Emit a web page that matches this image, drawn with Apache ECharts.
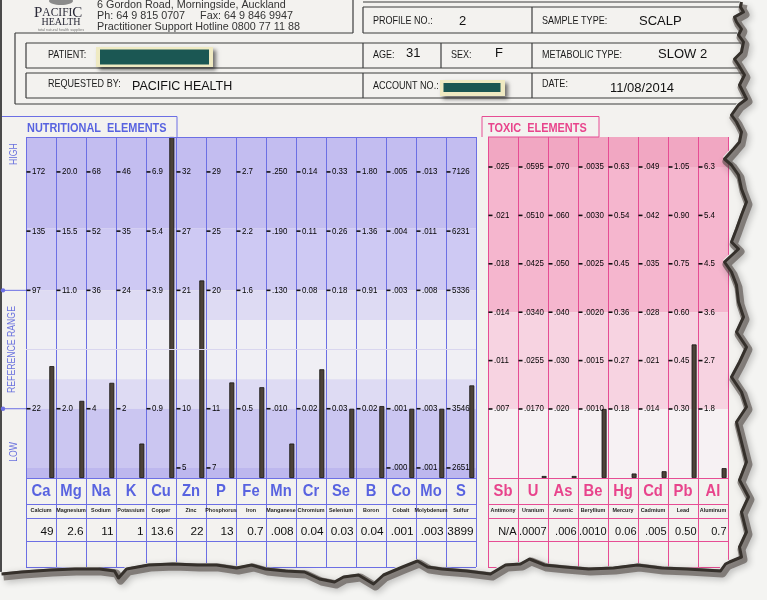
<!DOCTYPE html>
<html><head><meta charset="utf-8">
<script src="https://cdn.jsdelivr.net/npm/echarts@6/dist/echarts.min.js"></script>
<style>html,body{margin:0;padding:0;background:#f3f2ef}#c{width:767px;height:600px}</style>
</head><body><div id="c"></div>
<script>
// ---------------- DATA ----------------
const nutriSymbols = ['Ca','Mg','Na','K','Cu','Zn','P','Fe','Mn','Cr','Se','B','Co','Mo','S'];
const nutriNames = ['Calcium','Magnesium','Sodium','Potassium','Copper','Zinc','Phosphorus','Iron','Manganese','Chromium','Selenium','Boron','Cobalt','Molybdenum','Sulfur'];
const nutriResults = [49, 2.6, 11, 1, 13.6, 22, 13, 0.7, 0.008, 0.04, 0.03, 0.04, 0.001, 0.003, 3899];
const nutriResultLabels = ['49','2.6','11','1','13.6','22','13','0.7','.008','0.04','0.03','0.04','.001','.003','3899'];
// tick labels per row (bottom "low" row, reference low, reference high, high 1, high 2)
const nutriTickLow   = [null,null,null,null,null,'5','7',null,null,null,null,null,'.000','.001','2651'];
const nutriTickRefLo = ['22','2.0','4','2','0.9','10','11','0.5','.010','0.02','0.03','0.02','.001','.003','3546'];
const nutriTickRefHi = ['97','11.0','36','24','3.9','21','20','1.6','.130','0.08','0.18','0.91','.003','.008','5336'];
const nutriTickHigh1 = ['135','15.5','52','35','5.4','27','25','2.2','.190','0.11','0.26','1.36','.004','.011','6231'];
const nutriTickHigh2 = ['172','20.0','68','46','6.9','32','29','2.7','.250','0.14','0.33','1.80','.005','.013','7126'];
// unprinted low-line scale values (estimated from the bars in the picture)
const nutriLowHidden = [null,null,null,0.3,null,null,null,null,0.0066,null,null,null,null,null,null];

const toxSymbols = ['Sb','U','As','Be','Hg','Cd','Pb','Al'];
const toxNames = ['Antimony','Uranium','Arsenic','Beryllium','Mercury','Cadmium','Lead','Aluminum'];
const toxResults = [null, 0.0007, 0.006, 0.0010, 0.06, 0.005, 0.50, 0.7];
const toxResultLabels = ['N/A','.0007','.006','.0010','0.06','.005','0.50','0.7'];
const toxTick0 = ['.007','.0170','.020','.0010','0.18','.014','0.30','1.8'];
const toxTick1 = ['.011','.0255','.030','.0015','0.27','.021','0.45','2.7'];
const toxTick2 = ['.014','.0340','.040','.0020','0.36','.028','0.60','3.6'];
const toxTick3 = ['.018','.0425','.050','.0025','0.45','.035','0.75','4.5'];
const toxTick4 = ['.021','.0510','.060','.0030','0.54','.042','0.90','5.4'];
const toxTick5 = ['.025','.0595','.070','.0035','0.63','.049','1.05','6.3'];

// ---------------- STYLE ----------------
const SANS = "'Liberation Sans',Arial,sans-serif";
const NX = 0.82; // horizontal squeeze to imitate a narrow face
const BLUE = '#6c6fe4', BLUE_TXT = '#5863e0';
const PINK = '#e64d94', PINK_TXT = '#e8448c';
const NUT_OFF = 0.17, NUT_TOP = 5.76;
const TOX_OFF = 1.426, TOX_TOP = 7.046;
const nutRows = [nutriTickLow, nutriTickRefLo, nutriTickRefHi, nutriTickHigh1, nutriTickHigh2];
const nutRowLevels = [0, 1, 3, 4, 5];
const toxRows = [toxTick0, toxTick1, toxTick2, toxTick3, toxTick4, toxTick5];
const toxRowLevels = [0, 1, 2, 3, 4, 5];

function num(s) { return (s === null || s === undefined) ? null : parseFloat(s); }
function levelOf(v, scale, levels) {
  const pts = [];
  scale.forEach((s, k) => { if (s !== null && !isNaN(s)) pts.push([s, levels[k]]); });
  let a = pts[0], b = pts[1];
  for (let k = 0; k < pts.length - 1; k++) { a = pts[k]; b = pts[k + 1]; if (v <= b[0]) break; }
  return a[1] + (v - a[0]) * (b[1] - a[1]) / (b[0] - a[0]);
}
const clamp = (v, lo, hi) => Math.max(lo, Math.min(hi, v));

const nutBars = [];
nutriResults.forEach((v, i) => {
  if (v === null) return;
  const low = num(nutriTickLow[i]) !== null ? num(nutriTickLow[i]) : nutriLowHidden[i];
  const scale = [low].concat([nutriTickRefLo, nutriTickRefHi, nutriTickHigh1, nutriTickHigh2].map(r => num(r[i])));
  nutBars.push([i + 0.86, clamp(levelOf(v, scale, nutRowLevels) + NUT_OFF, 0, NUT_TOP)]);
});
const toxBars = [];
toxResults.forEach((v, i) => {
  if (v === null) return;
  const scale = toxRows.map(r => num(r[i]));
  toxBars.push([i + 0.87, clamp(levelOf(v, scale, toxRowLevels) + TOX_OFF, 0, TOX_TOP)]);
});

const nutTicks = [], toxTicks = [];
nutRows.forEach((row, r) => row.forEach((t, i) => { if (t !== null) nutTicks.push({ text: t, value: [i, nutRowLevels[r] + NUT_OFF] }); }));
toxRows.forEach((row, r) => row.forEach((t, i) => { if (t !== null) toxTicks.push({ text: t, value: [i, toxRowLevels[r] + TOX_OFF] }); }));

// custom-series text layer (library coordinates via api.coord)
function textLayer(g, items, st) {
  return {
    type: 'custom', xAxisIndex: g, yAxisIndex: g, silent: true, z: 6,
    data: items.map(it => it.value),
    renderItem: function (params, api) {
      const p = api.coord([api.value(0), api.value(1)]);
      const it = items[params.dataIndex];
      return { type: 'text', x: p[0] + (st.dx || 0), y: p[1], scaleX: st.sx || 1,
        style: { text: it.text, fill: st.fill, fontSize: st.size, fontFamily: SANS, fontWeight: st.weight || 'normal',
          align: st.align || 'left', verticalAlign: 'middle' } };
    }
  };
}
function tickLayer(g, items) {
  return {
    type: 'custom', xAxisIndex: g, yAxisIndex: g, silent: true, z: 6,
    data: items.map(it => it.value),
    renderItem: function (params, api) {
      const p = api.coord([api.value(0), api.value(1)]);
      const it = items[params.dataIndex];
      return { type: 'group', children: [
        { type: 'rect', shape: { x: p[0] + 0.5, y: p[1] - 0.8, width: 4, height: 1.6 }, style: { fill: '#111' } },
        { type: 'text', x: p[0] + 6, y: p[1], scaleX: 0.88,
          style: { text: it.text, fill: '#050505', fontSize: 9, fontFamily: SANS, align: 'left', verticalAlign: 'middle' } }
      ] };
    }
  };
}
function tableLayers(g, syms, names, vals, color, line, valX, valSize) {
  return [
    Object.assign(textLayer(g, syms.map((s, i) => ({ text: s, value: [i + 0.5, 13.5] })), { fill: color, size: 17, weight: 'bold', align: 'center', sx: 0.87 }), {
      markLine: { silent: true, symbol: ['none', 'none'], label: { show: false }, lineStyle: { color: line, width: 1, type: 'solid' },
        data: [0, 26, 40, 63, 89].map(y => ({ yAxis: y })) } }),
    textLayer(g, names.map((s, i) => ({ text: s, value: [i + 0.5, 33] })), { fill: '#1d1d1d', size: 5.4, weight: 'bold', align: 'center' }),
    textLayer(g, vals.map((s, i) => ({ text: s, value: [i + valX, 53.5] })), { fill: '#111', size: valSize, align: 'right' })
  ];
}

function band(a, b, c) { return [{ yAxis: a, itemStyle: { color: c } }, { yAxis: b }]; }
const N = NUT_OFF, T = TOX_OFF;

const option = {
  animation: false,
  backgroundColor: '#f3f2ef',
  grid: [
    { left: 26, top: 137, width: 450, height: 341 },
    { left: 488, top: 137, width: 240, height: 341 },
    { left: 26, top: 478, width: 450, height: 89 },
    { left: 488, top: 478, width: 240, height: 89 }
  ],
  xAxis: [0, 1, 2, 3].map(g => ({
    gridIndex: g, type: 'value', min: 0, max: g % 2 === 0 ? nutriSymbols.length : toxSymbols.length, interval: 1, z: 3,
    axisLine: { show: false }, axisTick: { show: false }, axisLabel: { show: false },
    splitLine: { show: true, lineStyle: { color: g % 2 === 0 ? BLUE : PINK, width: 1 } }
  })),
  yAxis: [
    { gridIndex: 0, type: 'value', min: 0, max: NUT_TOP, show: false },
    { gridIndex: 1, type: 'value', min: 0, max: TOX_TOP, show: false },
    { gridIndex: 2, type: 'value', min: 0, max: 89, inverse: true, show: false },
    { gridIndex: 3, type: 'value', min: 0, max: 89, inverse: true, show: false }
  ],
  series: [
    { type: 'bar', xAxisIndex: 0, yAxisIndex: 0, barWidth: 5, silent: true, clip: true, data: nutBars,
      itemStyle: { color: '#4c4239', borderColor: '#161412', borderWidth: 0.8 },
      markArea: { silent: true, data: [
        band(4.05 + N, NUT_TOP, '#c3bdf0'), band(3 + N, 4.05 + N, '#ceC9f3'), band(2.5 + N, 3 + N, '#dedbf3'),
        band(1.5 + N, 2.5 + N, '#f0eff4'), band(1 + N, 1.5 + N, '#dedbf3'), band(0 + N, 1 + N, '#cbc6f1'), band(0, 0 + N, '#bdb7ee')
      ] },
      markLine: { silent: true, symbol: ['none', 'none'], label: { show: false }, lineStyle: { type: 'solid', width: 1, color: BLUE },
        data: [{ yAxis: 0 }, { yAxis: NUT_TOP }, { yAxis: 2 + N, lineStyle: { color: '#d9d6ef', width: 1 } }] } },
    tickLayer(0, nutTicks),
    { type: 'bar', xAxisIndex: 1, yAxisIndex: 1, barWidth: 5, barMinHeight: 2, silent: true, clip: true, data: toxBars,
      itemStyle: { color: '#4c4239', borderColor: '#161412', borderWidth: 0.8 },
      markArea: { silent: true, data: [
        band(5 + T, TOX_TOP, '#f1a7c2'), band(2 + T, 5 + T, '#f5b6ce'), band(0 + T, 2 + T, '#f7d3e1'), band(0, 0 + T, '#f6f1f3')
      ] },
      markLine: { silent: true, symbol: ['none', 'none'], label: { show: false }, lineStyle: { type: 'solid', width: 1, color: PINK },
        data: [{ yAxis: 0 }, { yAxis: TOX_TOP }] } },
    tickLayer(1, toxTicks)
  ].concat(tableLayers(2, nutriSymbols, nutriNames, nutriResultLabels, BLUE_TXT, BLUE, 0.92, 11.8))
   .concat(tableLayers(3, toxSymbols, toxNames, toxResultLabels, PINK_TXT, PINK, 0.95, 11))
};

const chart = echarts.init(document.getElementById('c'), null, { renderer: 'canvas', width: 767, height: 600 });
chart.setOption(option);

// ---------------- DECORATION (header, labels, torn paper) ----------------
const G = [];
function txt(t, x, y, o) {
  o = o || {};
  G.push({ type: 'text', z: 20, x: x, y: y, rotation: o.rot || 0, scaleX: o.sx === undefined ? NX : o.sx,
    style: { text: t, x: 0, y: 0, fill: o.fill || '#1a1a1a', fontSize: o.size || 11, fontFamily: o.font || SANS,
      fontWeight: o.weight || 'normal', textAlign: o.align || 'left', align: o.align || 'left',
      textVerticalAlign: 'middle', verticalAlign: 'middle', rich: o.rich } });
}
function ln(x1, y1, x2, y2, c, w) { G.push({ type: 'line', z: 20, shape: { x1, y1, x2, y2 }, style: { stroke: c || '#3c3c3c', lineWidth: w || 1.2 } }); }
function rc(x, y, w, h, style) { G.push({ type: 'rect', z: 20, shape: { x, y, width: w, height: h }, style: style }); }

// header boxes
const DK = '#3d3d3d';
ln(363, 2, 767, 2, DK); ln(353, 0, 353, 33, DK); ln(15, 33, 353, 33, DK);
ln(15, 33, 15, 104, DK); ln(15, 104, 767, 104, DK);
ln(363, 7, 767, 7, DK); ln(363, 33, 767, 33, DK); ln(363, 7, 363, 33, DK); ln(532, 7, 532, 33, DK);
[[43, 68], [73, 98]].forEach(([a, b]) => { ln(26, a, 767, a, DK); ln(26, b, 767, b, DK); ln(26, a, 26, b, DK); ln(363, a, 363, b, DK); ln(532, a, 532, b, DK); });
ln(441, 43, 441, 68, DK);

// logo + address
G.push({ type: 'ellipse', z: 20, shape: { cx: 61, cy: 1, rx: 12, ry: 4 }, style: { fill: '#8a8a8a' } });
const SERIF = "'Liberation Serif',serif";
txt('{a|P}{b|ACIFI}{a|C}', 34, 13, { font: SERIF, size: 12, fill: '#2a2a38', sx: 1,
  rich: { a: { fontSize: 15, fontFamily: SERIF, fill: '#2a2a38' }, b: { fontSize: 11.5, fontFamily: SERIF, fill: '#2a2a38' } } });
txt('HEALTH', 61, 22.5, { font: SERIF, size: 10, align: 'center', fill: '#2a2a38', sx: 1 });
txt('total natural health supplies', 61, 29.5, { size: 3.8, align: 'center', fill: '#777', sx: 1 });
const ADR = { size: 11, fill: '#333', sx: 0.98 };
txt('6 Gordon Road, Morningside, Auckland', 97, 4.5, ADR);
txt('Ph: 64 9 815 0707     Fax: 64 9 846 9947', 97, 16, ADR);
txt('Practitioner Support Hotline 0800 77 11 88', 97, 27, ADR);

// header fields
const VAL = { size: 13, fill: '#111', sx: 1 };
txt('PROFILE NO.:', 373, 21); txt('2', 459, 21, VAL); txt('SAMPLE TYPE:', 542, 21); txt('SCALP', 639, 21, VAL);
txt('PATIENT:', 48, 55); txt('AGE:', 373, 55); txt('31', 406, 53, VAL); txt('SEX:', 451, 55); txt('F', 495, 53, VAL);
txt('METABOLIC TYPE:', 542, 55); txt('SLOW 2', 658, 54, VAL);
txt('REQUESTED BY:', 48, 84); txt('PACIFIC HEALTH', 132, 87, { size: 12.5, fill: '#111', sx: 1 });
txt('ACCOUNT NO.:', 373, 86); txt('DATE:', 542, 84); txt('11/08/2014', 610, 88, VAL);

// redaction boxes
const SH = { fill: '#efeac2', shadowBlur: 4, shadowOffsetX: 3, shadowOffsetY: 3, shadowColor: 'rgba(0,0,0,0.55)' };
rc(96, 47, 117, 20, SH); rc(100, 49.5, 109, 15, { fill: '#1b5753' });
rc(440, 80, 65, 16, SH); rc(443.5, 83, 57, 9, { fill: '#1b5753' });

// section title boxes
G.push({ type: 'polyline', z: 20, shape: { points: [[0.5, 137], [0.5, 116.5], [177, 116.5], [177, 137]] }, style: { stroke: BLUE, lineWidth: 1, fill: null } });
txt('NUTRITIONAL  ELEMENTS', 27, 128, { fill: BLUE_TXT, size: 13, weight: 'bold', sx: 0.84 });
G.push({ type: 'polyline', z: 20, shape: { points: [[482, 137], [482, 116.5], [599, 116.5], [599, 137], [488, 137]] }, style: { stroke: PINK, lineWidth: 1, fill: null } });
txt('TOXIC  ELEMENTS', 488, 128, { fill: PINK_TXT, size: 13, weight: 'bold', sx: 0.84 });

// range markers at the left
const py = lv => chart.convertToPixel({ gridIndex: 0 }, [0, lv + NUT_OFF])[1];
[3, 1].forEach(lv => { const y = py(lv); ln(3, y, 26, y, BLUE, 1); G.push({ type: 'circle', z: 21, shape: { cx: 3, cy: y, r: 2.2 }, style: { fill: BLUE } }); });
const LBL = { fill: '#6a72de', size: 11, align: 'center', rot: Math.PI / 2, sx: 0.79 };
txt('HIGH', 14, py(5.3), LBL);
txt('REFERENCE RANGE', 12, py(2), LBL);
txt('LOW', 14, py(0.27), LBL);

// left page edge
ln(1, 0, 1, 572, '#4a4a4a', 2);

// torn paper edge
const rightEdge = [[740,0],[739,5],[742,10],[733,15],[735,20],[740,27],[737,33],[742,40],[740,50],[733,57],[737,63],[743,73],[738,83],[745,97],[737,103],[730,113],[735,120],[740,130],[738,140],[732,147],[723,157],[730,163],[737,173],[740,187],[745,200],[740,213],[735,227],[730,240],[737,247],[723,260],[730,270],[735,283],[737,300],[742,315],[735,330],[745,345],[738,360],[730,375],[740,390],[745,405],[735,420],[740,440],[745,460],[738,478],[747,495],[740,510],[745,530],[738,545],[740,555],[728,560],[724,562]];
const bottomEdge = [[0,572],[20,570],[49,568],[73,567],[98,567],[113,569],[117,576],[125,567],[147,563],[171,562],[196,563],[215,563],[235,566],[250,563],[264,567],[284,569],[303,570],[318,577],[333,580],[342,575],[357,573],[372,582],[382,573],[401,565],[416,559],[426,565],[440,567],[465,569],[489,572],[504,563],[519,562],[528,557],[543,563],[563,565],[587,567],[612,566],[636,563],[660,566],[685,567],[719,569],[724,562]];
const edge = rightEdge.concat(bottomEdge.slice().reverse());
G.push({ type: 'polygon', z: 100, shape: { points: [[767, 0]].concat(edge).concat([[0, 600], [767, 600]]) }, style: { fill: '#f4f4f2' } });
G.push({ type: 'polyline', z: 101, shape: { points: edge.map(p => [p[0] + 3.5, p[1] + 4.5]) },
  style: { stroke: 'rgba(80,72,66,0.6)', lineWidth: 8, fill: null, lineJoin: 'round', shadowBlur: 7, shadowOffsetX: 2, shadowOffsetY: 2, shadowColor: 'rgba(0,0,0,0.4)' } });
G.push({ type: 'polyline', z: 102, shape: { points: edge.map(p => [p[0] + 1.5, p[1] + 2]) },
  style: { stroke: '#35302b', lineWidth: 3, fill: null, lineJoin: 'round' } });

chart.setOption({ graphic: { elements: G } });
</script></body></html>
